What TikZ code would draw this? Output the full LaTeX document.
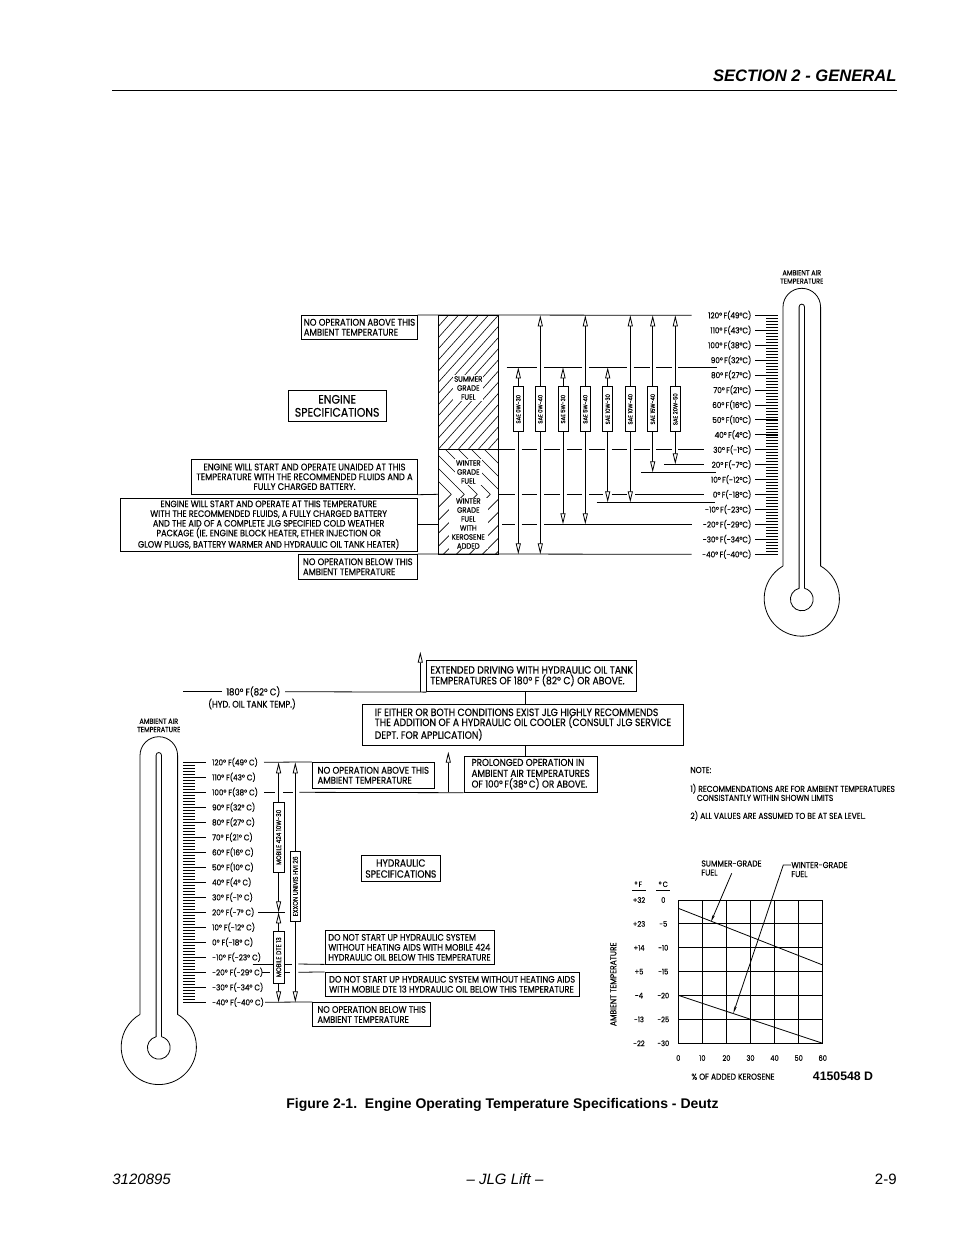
\documentclass[tikz,border=0pt]{standalone}
\usepackage{fontspec}
\setmainfont{Liberation Sans}
\newfontfamily\drawfont[FakeStretch=0.88,FakeBold=0.3]{Poppins}
\usetikzlibrary{arrows.meta}
\newcommand{\dg}{°}
\newcommand{\fsize}[2]{\fontsize{#1}{#2}\selectfont}
\tikzset{
  base/.style={line width=.8pt},
  notebox/.style={draw,line width=.8pt,inner sep=0pt,align=left,font=\drawfont\fsize{9.7}{10}},
  specbox/.style={notebox,align=center,font=\drawfont\fsize{12.4}{13}},
  oilbox/.style={draw,line width=.8pt,fill=white,inner sep=0pt,rotate=90,font=\drawfont\fsize{6}{6}},
  fuellabel/.style={fill=white,inner sep=1pt,align=center,font=\drawfont\fsize{7.8}{9}},
  templabel/.style={inner sep=0pt,font=\drawfont\fsize{8.2}{9}},
  smalllabel/.style={inner sep=0pt,align=left,font=\drawfont\fsize{8.6}{9}},
  chartnum/.style={inner sep=0pt,font=\drawfont\fsize{7.6}{8}},
  openarrow/.style={-{Triangle[open,fill=white,length=11pt,width=5pt]}},
  thinarrow/.style={-{Stealth[length=7pt,width=2.5pt]}},
}
\begin{document}
\begin{tikzpicture}[x=1pt,y=-1pt,base]
\useasboundingbox (0,0) rectangle (954,1235);
% page head and foot
\node[anchor=east,inner sep=0pt,font=\fsize{16.6}{18}\bfseries\itshape] (head) at (897,75.5) {SECTION 2 - GENERAL};
\draw (112,90) -- (897,90);
\node[inner sep=0pt,font=\fsize{14}{16}\bfseries] (caption) at (502.5,1105) {Figure 2-1.\ \ Engine Operating Temperature Specifications - Deutz};
\node[anchor=west,inner sep=0pt,font=\fsize{15}{17}\itshape] (partno) at (112,1179) {3120895};
\node[inner sep=0pt,font=\fsize{15}{17}\itshape] (maker) at (505,1179) {-- JLG Lift --};
\node[anchor=east,inner sep=0pt,font=\fsize{15}{17}] (pageno) at (897,1179) {2-9};
\node[inner sep=0pt,font=\fsize{12.3}{14}\bfseries] (drawno) at (843,1076.7) {4150548 D};

% thermometers
\foreach \cx/\ty in {801.8/288.3,158.8/736.7} {
  \draw (\cx-18.8,\ty+277.7) -- (\cx-18.8,\ty+18.8) arc[start angle=180,end angle=0,radius=18.8pt]
    -- (\cx+18.8,\ty+277.7) arc[start angle=60,end angle=-240,radius=37.6pt];
  \draw (\cx+2.7,\ty+300) -- (\cx+2.7,\ty+18.5) arc[start angle=0,end angle=180,radius=2.7pt]
    -- (\cx-2.7,\ty+300) arc[start angle=103.7,end angle=436.3,radius=11.4pt];
  \node[smalllabel,align=center,font=\drawfont\fsize{7.4}{8.3}] at (\cx,\ty-11.3) {AMBIENT AIR\\TEMPERATURE};
}
% engine scale
\foreach \i in {0,...,80} \draw[line width=.6pt] (766,315.3+\i*2.9875) -- (777.7,315.3+\i*2.9875);
\foreach \tf/\tc [count=\n from 0] in {120/49,110/43,100/38,90/32,80/27,70/21,60/16,50/10,40/4,30/-1,20/-7,10/-12,0/-18,-10/-23,-20/-29,-30/-34,-40/-40} {
  \node[templabel,anchor=east] (eng\n) at (751.7,315.3+\n*14.94) {\tf\dg\,F(\tc\dg C)};
  \draw (755,315.3+\n*14.94) -- (777.7,315.3+\n*14.94);
}
% hydraulic scale
\foreach \i in {0,...,80} \draw[line width=.6pt] (183.3,762.3+\i*3) -- (195,762.3+\i*3);
\foreach \tf/\tc [count=\n from 0] in {120/49,110/43,100/38,90/32,80/27,70/21,60/16,50/10,40/4,30/-1,20/-7,10/-12,0/-18,-10/-23,-20/-29,-30/-34,-40/-40} {
  \node[templabel,anchor=west] (hyd\n) at (211.7,762.3+\n*15) {\tf\dg\hspace{2pt}F(\tc\dg\hspace{2pt}C)};
  \draw (183.3,762.3+\n*15) -- (206,762.3+\n*15);
}

% fuel column
\begin{scope}
  \clip (438.3,315.3) rectangle (498.3,449.3);
  \foreach \k in {0,...,20} \draw[line width=.6pt] (438.3+\k*10-120,449.3) -- (438.3+\k*10,315.3);
\end{scope}
\begin{scope}
  \clip (438.3,449.3) rectangle (498.3,494.3);
  \foreach \k in {0,...,9} \draw[line width=.6pt] (438.3+\k*13-45,449.3) -- (438.3+\k*13,494.3);
\end{scope}
\begin{scope}
  \clip (438.3,494.3) rectangle (498.3,554.3);
  \foreach \k in {0,...,10} \draw[line width=.6pt] (438.3+\k*13-60,554.3) -- (438.3+\k*13,494.3);
\end{scope}
\draw (438.3,315.3) rectangle (498.3,554.3);
\draw (438.3,449.3) -- (498.3,449.3);
\node[fuellabel] (summer) at (468.3,388) {SUMMER\\GRADE\\FUEL};
\node[fuellabel] (winter) at (468.3,472) {WINTER\\GRADE\\FUEL};
\node[fuellabel,inner xsep=3pt,inner ysep=0pt] (kero) at (468.3,523.5) {WINTER\\GRADE\\FUEL\\WITH\\KEROSENE\\ADDED};

% engine boxes
\node[notebox,minimum width=115.6pt,minimum height=24pt] (noabove) at (359.5,327.3) {NO OPERATION ABOVE THIS\\AMBIENT TEMPERATURE};
\node[specbox,minimum width=97.7pt,minimum height=31.7pt] (engspec) at (337.15,405.85) {ENGINE\\SPECIFICATIONS};
\node[notebox,align=center,font=\drawfont\fsize{9.5}{9.8},minimum width=225.6pt,minimum height=35pt] (unaided) at (304.5,476.8) {ENGINE WILL START AND OPERATE UNAIDED AT THIS\\TEMPERATURE WITH THE RECOMMENDED FLUIDS AND A\\FULLY CHARGED BATTERY.};
\node[notebox,align=center,font=\drawfont\fsize{9.25}{9.7},minimum width=297.3pt,minimum height=53.4pt] (coldpkg) at (268.65,525) {ENGINE WILL START AND OPERATE AT THIS TEMPERATURE\\WITH THE RECOMMENDED FLUIDS, A FULLY CHARGED BATTERY\\AND THE AID OF A COMPLETE JLG SPECIFIED COLD WEATHER\\PACKAGE (IE. ENGINE BLOCK HEATER, ETHER INJECTION OR\\GLOW PLUGS, BATTERY WARMER AND HYDRAULIC OIL TANK HEATER)};
\node[notebox,font=\drawfont\fsize{9.5}{10},minimum width=119pt,minimum height=25pt] (nobelow) at (357.8,566.8) {NO OPERATION BELOW THIS\\AMBIENT TEMPERATURE};

% engine limit lines
\draw (noabove.north east) -- (691.7,315.3);
\draw (unaided.south east) -- (438.3,494.3);
\draw (coldpkg.east) ++(0,-.7) -- (438.3,524.3);
\draw (nobelow.north east) -- (691.7,554.3);
\foreach \a/\b in {506.7/537.3,544/582.3,589/627,633.7/649.7,656.3/671.7,678.3/716.7} \draw (\a,367.3) -- (\b,367.3);
\foreach \a/\b in {498.3/515,521.7/537.3,544/560,566.7/582.3,589/605,611.7/627,633.7/649.7,656.3/671.7,678.3/704} \draw (\a,449.3) -- (\b,449.3);
\foreach \a/\b in {498.3/515,521.7/537.3,544/560,566.7/582.3,589/603.3,611.7/626.7,635/704} \draw (\a,494.3) -- (\b,494.3);
\foreach \a/\b in {502.3/515,521.7/537.3,544/691.7} \draw (\a,524.3) -- (\b,524.3);
\draw (664,464.3) -- (704,464.3);
\draw (641,472.3) -- (715.7,472.3);
\draw (596.7,502.3) -- (715,502.3);

% oil grades
\foreach \px/\ptop/\pbot/\oil [count=\n] in {518.3/367.3/554.3/0W-30,540.3/315.3/554.3/0W-40,563/367.3/524.3/5W-30,585.3/315.3/524.3/5W-40,607.7/367.3/502.3/10W-30,630.3/315.3/502.3/10W-40,652.7/315.3/472.3/15W-40,675.3/315.3/464.3/20W-50} {
  \node[oilbox,minimum width=45pt,minimum height=10pt] (sae\n) at (\px,409.2) {SAE \oil};
  \draw[openarrow] (sae\n.east) -- (\px,\ptop);
  \draw[openarrow] (sae\n.west) -- (\px,\pbot);
}

% hydraulic boxes
\node[notebox,font=\drawfont\fsize{10.5}{10.7},minimum width=210pt,minimum height=31pt] (extended) at (531.7,676.2) {EXTENDED DRIVING WITH HYDRAULIC OIL TANK\\TEMPERATURES OF 180° F (82° C) OR ABOVE.};
\node[notebox,font=\drawfont\fsize{10.5}{10},minimum width=320.6pt,minimum height=41.3pt] (ifeither) at (523,724.65) {IF EITHER OR BOTH CONDITIONS EXIST JLG HIGHLY RECOMMENDS\\THE ADDITION OF A HYDRAULIC OIL COOLER (CONSULT JLG SERVICE\\DEPT. FOR APPLICATION)};
\node[notebox,font=\drawfont\fsize{10}{10.8},minimum width=133.3pt,minimum height=36.3pt] (prolonged) at (530.65,774.15) {PROLONGED OPERATION IN\\AMBIENT AIR TEMPERATURES\\OF 100\dg\,F(38\dg\,C) OR ABOVE.};
\node[notebox,minimum width=122pt,minimum height=26pt] (hydabove) at (373.3,775.3) {NO OPERATION ABOVE THIS\\AMBIENT TEMPERATURE};
\node[specbox,font=\drawfont\fsize{10.4}{11},minimum width=78.3pt,minimum height=25.6pt] (hydspec) at (400.85,868.5) {HYDRAULIC\\SPECIFICATIONS};
\node[notebox,font=\drawfont\fsize{9.25}{10},minimum width=169pt,minimum height=33.3pt] (nostarta) at (409.5,947.35) {DO NOT START UP HYDRAULIC SYSTEM\\WITHOUT HEATING AIDS WITH MOBILE 424\\HYDRAULIC OIL BELOW THIS TEMPERATURE};
\node[notebox,font=\drawfont\fsize{9.4}{10},minimum width=254.3pt,minimum height=24pt] (nostartb) at (452.15,984.3) {DO NOT START UP HYDRAULIC SYSTEM WITHOUT HEATING AIDS\\WITH MOBILE DTE 13 HYDRAULIC OIL BELOW THIS TEMPERATURE};
\node[notebox,font=\drawfont\fsize{9.4}{10},minimum width=118pt,minimum height=24.4pt] (hydbelow) at (371.7,1014.5) {NO OPERATION BELOW THIS\\AMBIENT TEMPERATURE};

% 180 degree line and links
\node[inner sep=0pt,font=\drawfont\fsize{9.7}{10}] (tank) at (253.3,691.7) {180° F(82° C)};
\node[inner sep=0pt,font=\drawfont\fsize{9.4}{10}] (tanknote) at (252,704) {(HYD. OIL TANK TEMP.)};
\draw (183.3,691.7) -- (221.7,691.7);
\draw (285,691.7) -- (extended.south west);
\draw[openarrow] (420.3,691.7) -- (420.3,651.7);
\draw ([xshift=2.3pt]ifeither.north) -- ([xshift=2.3pt]ifeither.north |- extended.south);
\draw ([xshift=2.3pt]ifeither.south) -- ([xshift=2.3pt]ifeither.south |- prolonged.north);
\draw[openarrow] (448.3,792.3) -- (448.3,751.7);

% hydraulic limit lines
\draw (264,762.3) -- (hydabove.north west);
\foreach \a/\b in {264/275,283/292.7} \draw (\a,792.3) -- (\b,792.3);
\draw (299.3,792.3) -- (prolonged.south west);
\draw (258,912.3) -- (285,912.3);
\foreach \a/\b in {252.7/273.3,285/291.7} \draw (\a,964) -- (\b,964);
\draw (298.3,964) -- (nostarta.south west);
\foreach \a/\b in {262/270,285/290} \draw (\a,972.3) -- (\b,972.3);
\draw (298.3,972.3) -- (nostartb.north west);
\draw (265,1002.3) -- (hydbelow.north west);

% hydraulic oils
\node[oilbox,font=\drawfont\fsize{6.6}{7},minimum width=70pt,minimum height=10.7pt] (mobila) at (278.6,837.3) {MOBILE 424 10W-30};
\node[oilbox,font=\drawfont\fsize{6.8}{7},minimum width=52.3pt,minimum height=10.7pt] (mobilb) at (278.6,957.2) {MOBILE DTE 13};
\node[oilbox,font=\drawfont\fsize{6.8}{7},minimum width=70.7pt,minimum height=10pt] (exxon) at (295.3,886.3) {EXXON UNIVIS HVI 26};
\draw[openarrow] (mobila.east) -- (278.6,762.3);
\draw[openarrow] (mobila.west) -- (278.6,912.3);
\draw[openarrow] (mobilb.east) -- (278.6,912.3);
\draw[openarrow] (mobilb.west) -- (278.6,1002.3);
\draw[openarrow] (exxon.east) -- (295.3,762.3);
\draw[openarrow] (exxon.west) -- (295.3,1002.3);

% notes
\node[smalllabel,anchor=west] (note) at (690,770) {NOTE:};
\node[smalllabel,anchor=north west] (notea) at (690,783.5) {1) RECOMMENDATIONS ARE FOR AMBIENT TEMPERATURES\\\hspace*{6.5pt}CONSISTANTLY WITHIN SHOWN LIMITS};
\node[smalllabel,anchor=west] (noteb) at (690,815.7) {2) ALL VALUES ARE ASSUMED TO BE AT SEA LEVEL.};

% kerosene chart
\foreach \k in {0,...,6} {
  \draw (678.3+\k*24.07,900) -- (678.3+\k*24.07,1043.3);
  \draw (678.3,900+\k*23.88) -- (822.7,900+\k*23.88);
}
\draw (678.3,908.3) -- (822.7,965);
\draw (678.3,995.3) -- (822.7,1043.3);
\foreach \k/\v in {0/0,1/10,2/20,3/30,4/40,5/50,6/60}
  \node[chartnum] (per\v) at (678.3+\k*24.07,1058) {\v};
\foreach \fv/\cv [count=\n from 0] in {+32/0,+23/-5,+14/-10,+5/-15,-4/-20,-13/-25,-22/-30} {
  \node[chartnum] (degf\n) at (639,900+\n*23.88) {\fv};
  \node[chartnum] (degc\n) at (663.3,900+\n*23.88) {\cv};
}
\node[chartnum] (headf) at (638.3,884.3) {\dg\,F};
\node[chartnum] (headc) at (663.3,884.3) {\dg\,C};
\draw (632.3,890) -- (645.7,890);
\draw (656,890) -- (670,890);
\node[smalllabel,rotate=90] (ambient) at (613.3,984.3) {AMBIENT TEMPERATURE};
\node[smalllabel] (kerosene) at (733,1076.7) {\% OF ADDED KEROSENE};
\node[smalllabel,anchor=west] (summerlab) at (701,868) {SUMMER-GRADE\\FUEL};
\node[smalllabel,anchor=west] (winterlab) at (791,869.5) {WINTER-GRADE\\FUEL};
\draw[thinarrow] (731.7,873.3) -- (711,921.7);
\draw[thinarrow] (winterlab.west |- 0,865) -- (783.3,865) -- (733.3,1013.3);
\end{tikzpicture}
\end{document}
